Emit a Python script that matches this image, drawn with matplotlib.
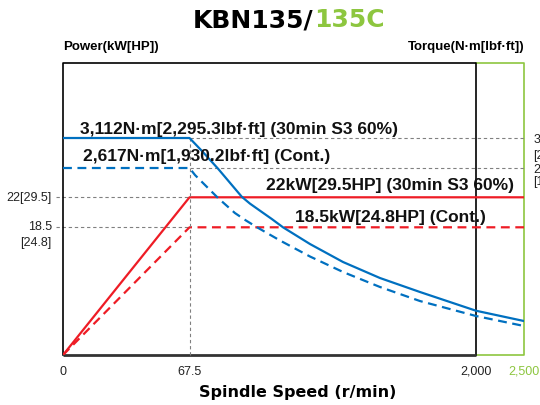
import numpy as np
import matplotlib.pyplot as plt

plt.rcParams['font.family'] = ['Liberation Sans', 'DejaVu Sans']

# Puissance (kW) en fonction de la vitesse broche (r/min)
speed_power = [0, 67.5, 2500]
power_s3 = [0, 22, 22]
power_cont = [0, 18.5, 18.5]

# Couple (N·m)
speed_torque_s3 = [0, 67.5, 150, 262, 420, 475, 556, 623, 698, 880, 1103, 1352, 1622, 2000, 2500]
torque_s3 = [3112, 3112, 2902, 2600, 2143, 2030, 1890, 1775, 1639, 1363, 1066, 802, 571, 262, 92]
speed_torque_cont = [0, 67.5, 105, 260, 374, 449, 523, 678, 880, 1103, 1352, 1622, 2000, 2500]
torque_cont = [2617, 2617, 2500, 2122, 1874, 1750, 1639, 1421, 1157, 901, 654, 422, 175, 10]

x_ticks = [0, 67.5, 2000, 2500]
x_labels = ['0', '67.5', '2,000', '2,500']

red = '#ee1c25'
blue = '#0070c0'
green = '#8dc63f'
grey = '#808080'


# échelle linéaire par morceaux (l'axe du graphique d'origine n'est pas proportionnel)
def piecewise(src, dst):
    src = np.asarray(src, float)
    dst = np.asarray(dst, float)

    def f(v):
        v = np.asarray(v, float)
        out = np.interp(v, src, dst)
        lo = dst[0] + (v - src[0]) * (dst[1] - dst[0]) / (src[1] - src[0])
        hi = dst[-1] + (v - src[-1]) * (dst[-1] - dst[-2]) / (src[-1] - src[-2])
        return np.where(v < src[0], lo, np.where(v > src[-1], hi, out))
    return f


x_knots, x_px = [0, 67.5, 2000, 2500], [0, 126.5, 413, 461]
p_knots, p_px = [0, 18.5, 22, 40], [0, 127.7, 157.7, 292.5]

fig = plt.figure(figsize=(5.4, 4.06), dpi=100)
ax = fig.add_axes([63 / 540, 50 / 406, 461 / 540, 292.5 / 406])
ax.set_xscale('function', functions=(piecewise(x_knots, x_px), piecewise(x_px, x_knots)))
ax.set_yscale('function', functions=(piecewise(p_knots, p_px), piecewise(p_px, p_knots)))
ax.set_xlim(0, 2500)
ax.set_ylim(0, 40)
tx = ax.twinx()
tx.set_ylim(-468.5, 4358)

for a in (ax, tx):
    for s in a.spines.values():
        s.set_visible(False)
    a.set_yticks([])
    a.minorticks_off()

# cadres
ax.plot([2000, 2500, 2500, 2000], [40, 40, 0, 0], color=green, lw=1.2, clip_on=False)
ax.plot([0, 0, 2000, 2000], [0, 40, 40, 0], color='black', lw=1.2, clip_on=False)
ax.plot([0, 2000], [0, 0], color='#333333', lw=2, clip_on=False, solid_capstyle='butt')

# lignes de repère grises
gdash = dict(color=grey, lw=0.8, ls=(0, (3, 2.5)), zorder=1, clip_on=False)
ax.plot([-4, 67.5], [22, 22], **gdash)
ax.plot([-4, 67.5], [18.5, 18.5], **gdash)
tx.plot([67.5, 67.5], [-468.5, 3112], **gdash)
tx.plot([67.5, 2500], [3112, 3112], **gdash)
tx.plot([67.5, 2500], [2617, 2617], **gdash)

# courbes
ax.plot(speed_power, power_s3, color=red, lw=1.6, zorder=3)
ax.plot(speed_power, power_cont, color=red, lw=1.6, ls=(0, (4, 2.5)), zorder=3)
tx.plot(speed_torque_s3, torque_s3, color=blue, lw=1.6, zorder=3, solid_joinstyle='round')
tx.plot(speed_torque_cont, torque_cont, color=blue, lw=1.6, ls=(0, (4, 2.5)), zorder=3)

# textes des courbes
lab = dict(xycoords=('axes fraction', 'data'), textcoords='offset points',
           ha='left', va='baseline', fontsize=12.5, fontweight='bold', color='#111111')
tx.annotate('3,112N·m[2,295.3lbf·ft] (30min S3 60%)', xy=(0.037, 3112), xytext=(0, 3.6), **lab)
tx.annotate('2,617N·m[1,930.2lbf·ft] (Cont.)', xy=(0.043, 2617), xytext=(0, 5.8), **lab)
ax.annotate('22kW[29.5HP] (30min S3 60%)', xy=(0.441, 22), xytext=(0, 5.8), **lab)
ax.annotate('18.5kW[24.8HP] (Cont.)', xy=(0.503, 18.5), xytext=(0, 4.8), **lab)

# graduations
ax.set_xticks(x_ticks, x_labels)
ax.tick_params(axis='x', length=0, pad=7, labelsize=9, labelcolor='#222222')
ax.get_xticklabels()[-1].set_color(green)

tk = dict(fontsize=9, color='#222222', va='center', textcoords='offset points')
ax.annotate('22[29.5]', xy=(-0.0245, 22), xycoords=('axes fraction', 'data'), xytext=(0, 0), ha='right', **tk)
ax.annotate('18.5', xy=(-0.0245, 18.5), xycoords=('axes fraction', 'data'), xytext=(0, 1), ha='right', **tk)
ax.annotate('[24.8]', xy=(-0.0245, 18.5), xycoords=('axes fraction', 'data'), xytext=(0, -10.5), ha='right', **tk)
tx.annotate('3,112', xy=(1.02, 3112), xycoords=('axes fraction', 'data'), xytext=(0, 0), ha='left', **tk)
tx.annotate('[2,295.3]', xy=(1.02, 3112), xycoords=('axes fraction', 'data'), xytext=(0, -12), ha='left', **tk)
tx.annotate('2,617', xy=(1.02, 2617), xycoords=('axes fraction', 'data'), xytext=(0, 0), ha='left', **tk)
tx.annotate('[1,930.2]', xy=(1.02, 2617), xycoords=('axes fraction', 'data'), xytext=(0, -9.5), ha='left', **tk)

# titres
fig.text(63.5 / 540, (406 - 47) / 406, 'Power(kW[HP])', ha='left', va='center', fontsize=9.5, fontweight='bold')
fig.text(524.5 / 540, (406 - 47) / 406, 'Torque(N·m[lbf·ft])', ha='right', va='center', fontsize=9.5, fontweight='bold')
t1 = fig.text(313.7 / 540, (406 - 20) / 406, 'KBN135/', ha='right', va='center',
              fontsize=18, fontweight='bold', family='DejaVu Sans', color='black')
ax.annotate('135C', xy=(1, 0), xycoords=t1, ha='left', va='bottom',
            fontsize=18, fontweight='bold', family='DejaVu Sans', color=green)
fig.text(298 / 540, 13 / 406, 'Spindle Speed (r/min)', ha='center', va='center',
         fontsize=11.5, fontweight='bold', family='DejaVu Sans')

fig.savefig('out.png', dpi=100)
